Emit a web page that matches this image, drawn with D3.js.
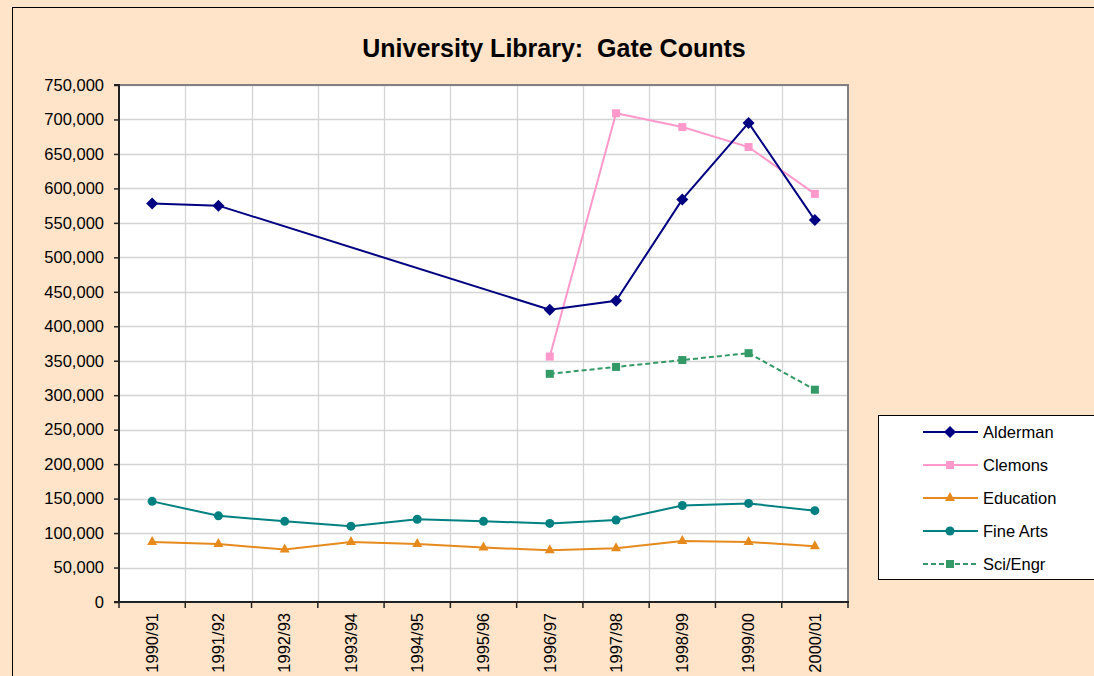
<!DOCTYPE html>
<html>
<head>
<meta charset="utf-8">
<script src="https://cdn.jsdelivr.net/npm/d3@7"></script>
<style>
  html, body { margin: 0; padding: 0; background: #FFE4C9; }
  svg { display: block; }
  text { font-family: Arial, "Liberation Sans", sans-serif; white-space: pre; }
</style>
</head>
<body>
<svg id="chart" width="1094" height="676"></svg>
<script>
const categories = ["1990/91","1991/92","1992/93","1993/94","1994/95","1995/96","1996/97","1997/98","1998/99","1999/00","2000/01"];
const alderman  = [578000, 575000, null, null, null, null, 424000, 437000, 584000, 695000, 554000];
const clemons   = [null, null, null, null, null, null, 356000, 709000, 689000, 660000, 592000];
const education = [87000, 84000, 76000, 87000, 84000, 79000, 75000, 78000, 88500, 87000, 81000];
const fineArts  = [146000, 125000, 117000, 110000, 120000, 117000, 114000, 119000, 140000, 143000, 132500];
const sciEngr   = [null, null, null, null, null, null, 331000, 341000, 351000, 361000, 308000];
const yTicks = [0,50000,100000,150000,200000,250000,300000,350000,400000,450000,500000,550000,600000,650000,700000,750000];
const titleText = "University Library:  Gate Counts";

const series = [
  {name: "Alderman",  values: alderman,  color: "#000080", marker: "diamond",  dash: null},
  {name: "Clemons",   values: clemons,   color: "#FF99CC", marker: "square",   dash: null},
  {name: "Education", values: education, color: "#E68A1E", marker: "triangle", dash: null},
  {name: "Fine Arts", values: fineArts,  color: "#008080", marker: "circle",   dash: null},
  {name: "Sci/Engr",  values: sciEngr,   color: "#339966", marker: "square",   dash: "5,3"}
];

const svg = d3.select("#chart");
const W = 1094, H = 676;
const plot = {left: 119, top: 85, right: 848, bottom: 602};
const FS = 16.5;

// outer background + border
svg.append("rect").attr("x", 0).attr("y", 0).attr("width", W).attr("height", H).attr("fill", "#FFE4C9");
svg.append("rect").attr("x", 12.5).attr("y", 7.5).attr("width", W + 20).attr("height", H + 20)
  .attr("fill", "#FFE4C9").attr("stroke", "#000").attr("stroke-width", 1);

// title
svg.append("text").attr("x", 554).attr("y", 57).attr("text-anchor", "middle")
  .attr("font-size", 25).attr("font-weight", "bold").attr("fill", "#000")
  .attr("xml:space", "preserve").text(titleText);

const x = d3.scaleBand().domain(categories).range([plot.left, plot.right]).padding(0);
const y = d3.scaleLinear().domain([0, 750000]).range([plot.bottom, plot.top]);

// plot background
svg.append("rect").attr("x", plot.left).attr("y", plot.top)
  .attr("width", plot.right - plot.left).attr("height", plot.bottom - plot.top).attr("fill", "#fff");

// gridlines
const grid = svg.append("g");
grid.selectAll("line.h").data(yTicks.slice(1)).join("line")
  .attr("x1", plot.left).attr("x2", plot.right)
  .attr("y1", d => Math.round(y(d)) + 0.5).attr("y2", d => Math.round(y(d)) + 0.5)
  .attr("stroke", "#D4D4D4").attr("stroke-width", 1.3);
grid.selectAll("line.v").data(categories.slice(1)).join("line")
  .attr("y1", plot.top).attr("y2", plot.bottom)
  .attr("x1", d => Math.round(x(d)) + 0.5).attr("x2", d => Math.round(x(d)) + 0.5)
  .attr("stroke", "#D4D4D4").attr("stroke-width", 1.3);

// top/right border
svg.append("path")
  .attr("d", `M${plot.left},${plot.top}H${plot.right}V${plot.bottom}`)
  .attr("fill", "none").attr("stroke", "#808080").attr("stroke-width", 2);

// y axis
const yAxis = d3.axisLeft(y).tickValues(yTicks).tickSize(5).tickPadding(10)
  .tickFormat(d3.format(","));
const yg = svg.append("g").attr("transform", `translate(${plot.left},0)`).call(yAxis);
yg.select(".domain").attr("stroke", "#222").attr("stroke-width", 2).attr("d", `M-5,${plot.top}H0V${plot.bottom}`);
yg.selectAll(".tick line").attr("stroke", "#222").attr("stroke-width", 1.5);
yg.selectAll(".tick text").attr("font-size", FS).attr("fill", "#000")
  .attr("font-family", "Arial, 'Liberation Sans', sans-serif");

// x axis with ticks at band boundaries
const xg = svg.append("g").attr("transform", `translate(0,${plot.bottom})`);
xg.append("line").attr("x1", plot.left - 5).attr("x2", plot.right + 1).attr("y1", 0).attr("y2", 0)
  .attr("stroke", "#222").attr("stroke-width", 2);
const bounds = categories.map(c => x(c)).concat([plot.right]);
xg.selectAll("line.tk").data(bounds).join("line")
  .attr("x1", d => d).attr("x2", d => d).attr("y1", 0).attr("y2", 6)
  .attr("stroke", "#222").attr("stroke-width", 1.5);
xg.selectAll("text").data(categories).join("text")
  .attr("transform", d => `translate(${x(d) + x.bandwidth() / 2},11) rotate(-90)`)
  .attr("text-anchor", "end").attr("dy", "0.35em")
  .attr("font-size", FS).attr("fill", "#000").text(d => d);

// symbols
function drawMarker(g, type, cx, cy, color) {
  if (type === "diamond") {
    g.append("path").attr("d", `M${cx},${cy-6}L${cx+6},${cy}L${cx},${cy+6}L${cx-6},${cy}Z`).attr("fill", color);
  } else if (type === "square") {
    g.append("rect").attr("x", cx - 4).attr("y", cy - 4).attr("width", 8).attr("height", 8).attr("fill", color);
  } else if (type === "triangle") {
    g.append("path").attr("d", `M${cx},${cy-6}L${cx+5},${cy+3}L${cx-5},${cy+3}Z`).attr("fill", color);
  } else if (type === "circle") {
    g.append("circle").attr("cx", cx).attr("cy", cy).attr("r", 4.5).attr("fill", color);
  }
}

const line = d3.line().x(d => x(d.c) + x.bandwidth() / 2).y(d => y(d.v));
const order = ["Education", "Fine Arts", "Sci/Engr", "Clemons", "Alderman"];
order.forEach(name => {
  const s = series.find(t => t.name === name);
  const pts = categories.map((c, i) => ({c, v: s.values[i]})).filter(d => d.v !== null);
  const g = svg.append("g");
  g.append("path").datum(pts).attr("d", line).attr("fill", "none")
    .attr("stroke", s.color).attr("stroke-width", 2)
    .attr("stroke-dasharray", s.dash);
  pts.forEach(d => drawMarker(g, s.marker, x(d.c) + x.bandwidth() / 2, y(d.v), s.color));
});

// legend
const lg = svg.append("g");
lg.append("rect").attr("x", 878.5).attr("y", 415.5).attr("width", 230).attr("height", 164)
  .attr("fill", "#fff").attr("stroke", "#000").attr("stroke-width", 1);
series.forEach((s, i) => {
  const cy = 432 + i * 33;
  lg.append("line").attr("x1", 923).attr("x2", 978).attr("y1", cy).attr("y2", cy)
    .attr("stroke", s.color).attr("stroke-width", 2).attr("stroke-dasharray", s.dash);
  drawMarker(lg, s.marker, 950, cy, s.color);
  lg.append("text").attr("x", 983).attr("y", cy).attr("dy", "0.35em")
    .attr("font-size", FS).attr("fill", "#000").text(s.name);
});
</script>
</body>
</html>
